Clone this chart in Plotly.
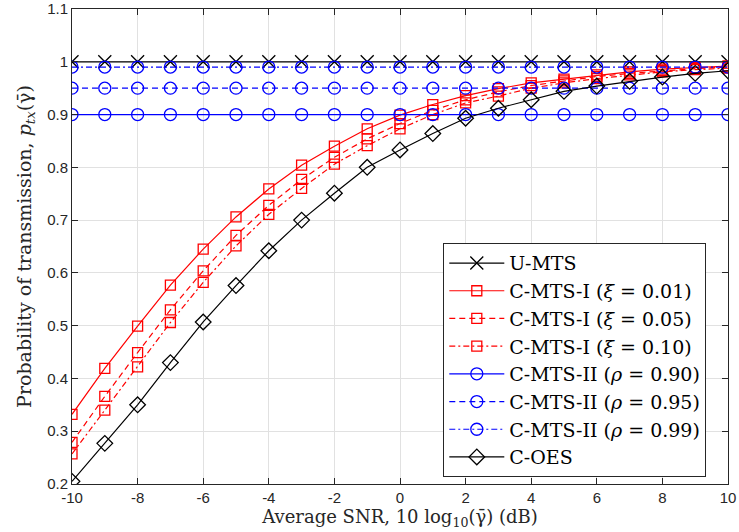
import plotly.graph_objects as go

snr = list(range(-10, 11))

u_mts = [1.0] * 21
cmts1_001 = [0.332, 0.419, 0.499, 0.577, 0.645, 0.706, 0.759, 0.804, 0.840, 0.873, 0.899,
             0.919, 0.936, 0.949, 0.960, 0.967, 0.975, 0.981, 0.986, 0.989, 0.992]
cmts1_005 = [0.279, 0.366, 0.449, 0.530, 0.604, 0.671, 0.728, 0.777, 0.819, 0.854, 0.883,
             0.908, 0.928, 0.943, 0.955, 0.964, 0.972, 0.978, 0.983, 0.987, 0.990]
cmts1_010 = [0.257, 0.340, 0.422, 0.506, 0.582, 0.651, 0.711, 0.760, 0.806, 0.841, 0.873,
             0.900, 0.922, 0.935, 0.950, 0.960, 0.968, 0.975, 0.981, 0.985, 0.988]
cmts2_090 = [0.90] * 21
cmts2_095 = [0.95] * 21
cmts2_099 = [0.99] * 21
c_oes = [0.205, 0.277, 0.350, 0.430, 0.507, 0.576, 0.642, 0.700, 0.751, 0.800, 0.833,
         0.864, 0.893, 0.912, 0.928, 0.944, 0.954, 0.963, 0.971, 0.978, 0.983]

x_ticks = list(range(-10, 11, 2))
x_ticklabels = ["-10", "-8", "-6", "-4", "-2", "0", "2", "4", "6", "8", "10"]
y_ticks = [0.2, 0.3, 0.4, 0.5, 0.6, 0.7, 0.8, 0.9, 1.0, 1.1]
y_ticklabels = ["0.2", "0.3", "0.4", "0.5", "0.6", "0.7", "0.8", "0.9", "1", "1.1"]

series = [
    ("U-MTS", u_mts, "black", "solid", "x-thin-open", 13),
    ("C-MTS-I (<i>ξ</i> = 0.01)", cmts1_001, "red", "solid", "square-open", 10),
    ("C-MTS-I (<i>ξ</i> = 0.05)", cmts1_005, "red", "6px,4px", "square-open", 10),
    ("C-MTS-I (<i>ξ</i> = 0.10)", cmts1_010, "red", "6px,3px,2px,3px", "square-open", 10),
    ("C-MTS-II (<i>ρ</i> = 0.90)", cmts2_090, "blue", "solid", "circle-open", 12),
    ("C-MTS-II (<i>ρ</i> = 0.95)", cmts2_095, "blue", "6px,4px", "circle-open", 12),
    ("C-MTS-II (<i>ρ</i> = 0.99)", cmts2_099, "blue", "6px,3px,2px,3px", "circle-open", 12),
    ("C-OES", c_oes, "black", "solid", "diamond-open", 12),
]

fig = go.Figure()
for name, ys, color, dash, sym, size in series:
    fig.add_trace(go.Scatter(
        x=snr, y=ys, name=name, mode="lines+markers",
        line=dict(color=color, width=1.2, dash=dash),
        marker=dict(symbol=sym, size=size, color=color, line=dict(width=1.3, color=color)),
    ))

serif = "DejaVu Serif, Liberation Serif"
axis_common = dict(
    showgrid=True, gridcolor="rgb(225,225,225)", gridwidth=1,
    showline=True, linecolor="rgb(38,38,38)", linewidth=1, mirror="ticks",
    ticks="inside", ticklen=6, tickcolor="rgb(38,38,38)",
    zeroline=False, automargin=False,
    tickfont=dict(family="Liberation Sans, Arial", size=15, color="rgb(38,38,38)"),
)

fig.update_layout(
    width=739, height=532,
    margin=dict(l=72, r=10.5, t=9, b=48),
    plot_bgcolor="white", paper_bgcolor="white",
    showlegend=True,
    legend=dict(
        x=0.566, y=0.507, xanchor="left", yanchor="top",
        bgcolor="white", bordercolor="rgb(38,38,38)", borderwidth=1,
        font=dict(family=serif, size=19, color="black"),
        tracegroupgap=0, itemwidth=55,
    ),
    xaxis=dict(range=[-10, 10], tickvals=x_ticks, ticktext=x_ticklabels,
               title=dict(text="Average SNR, 10 log<sub>10</sub>(γ̄) (dB)", standoff=0,
                          font=dict(family=serif, size=18, color="rgb(38,38,38)")),
               **axis_common),
    yaxis=dict(range=[0.2, 1.1], tickvals=y_ticks, ticktext=y_ticklabels,
               title=dict(text="Probability of transmission, <i>p</i><sub><i>tx</i></sub>(γ̄)", standoff=10,
                          font=dict(family=serif, size=19, color="rgb(38,38,38)")),
               **axis_common),
)

fig.write_html("out.html")
